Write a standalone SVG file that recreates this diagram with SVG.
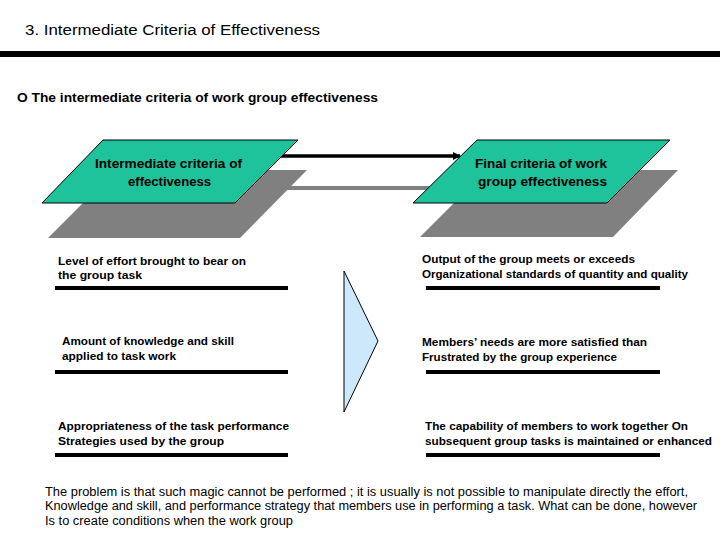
<svg xmlns="http://www.w3.org/2000/svg" width="720" height="540" viewBox="0 0 720 540">
<defs>
<style>
.title{font-family:"Liberation Sans",Arial,sans-serif;font-size:14px;fill:#000}
.b{font-family:"Liberation Sans",Arial,sans-serif;font-weight:bold;font-size:12px;fill:#000}
.bs{font-family:"Liberation Sans",Arial,sans-serif;font-weight:bold;font-size:11px;fill:#000}
.p{font-family:"Liberation Sans",Arial,sans-serif;font-size:12px;fill:#000}
.green{fill:#1EC39B;stroke:#000;stroke-width:1}
.shadow{fill:#808080}
.rule{fill:#000}
</style>
<marker id="ah" markerWidth="8" markerHeight="8" refX="7" refY="4" orient="auto" markerUnits="userSpaceOnUse">
<path d="M0,0 L8,4 L0,8 Z" fill="#000"/>
</marker>
</defs>
<rect width="720" height="540" fill="#fff"/>

<g id="title">
<text class="title" x="25" y="35" textLength="295" lengthAdjust="spacingAndGlyphs">3. Intermediate Criteria of Effectiveness</text>
<rect x="0" y="51" width="720" height="6" fill="#000"/>
</g>

<g id="subtitle">
<text class="b" x="17" y="102" textLength="361" lengthAdjust="spacingAndGlyphs">O The intermediate criteria of work group effectiveness</text>
</g>

<g id="shadows">
<polygon class="shadow" points="116,170 307,170 240,238 48,238"/>
<polygon class="shadow" points="487,170 678,170 613,237 420,237"/>
</g>

<g id="connectors">
<line x1="280" y1="156" x2="460" y2="156" stroke="#000" stroke-width="3.5" marker-end="url(#ah)"/>
<line x1="285" y1="188" x2="430" y2="188" stroke="#808080" stroke-width="4"/>
</g>

<g id="node-intermediate">
<polygon class="green" points="103,140 298,140 235,203 42,203"/>
<text class="b" x="168.5" y="168" text-anchor="middle" textLength="147" lengthAdjust="spacingAndGlyphs">Intermediate criteria of</text>
<text class="b" x="169.5" y="186" text-anchor="middle" textLength="83" lengthAdjust="spacingAndGlyphs">effectiveness</text>
</g>

<g id="node-final">
<polygon class="green" points="477,140 670,140 607,203 413,203"/>
<text class="b" x="541" y="168" text-anchor="middle" textLength="132" lengthAdjust="spacingAndGlyphs">Final criteria of work</text>
<text class="b" x="542.5" y="186" text-anchor="middle" textLength="129" lengthAdjust="spacingAndGlyphs">group effectiveness</text>
</g>

<g id="item-effort">
<text class="bs" x="58" y="265" textLength="188" lengthAdjust="spacingAndGlyphs">Level of effort brought to bear on</text>
<text class="bs" x="58" y="279" textLength="84" lengthAdjust="spacingAndGlyphs">the group task</text>
<rect class="rule" x="55" y="286" width="233" height="4"/>
</g>

<g id="item-knowledge">
<text class="bs" x="62" y="345" textLength="172" lengthAdjust="spacingAndGlyphs">Amount of knowledge and skill</text>
<text class="bs" x="62" y="360" textLength="114" lengthAdjust="spacingAndGlyphs">applied to task work</text>
<rect class="rule" x="55" y="370" width="233" height="4"/>
</g>

<g id="item-strategy">
<text class="bs" x="58" y="430" textLength="231" lengthAdjust="spacingAndGlyphs">Appropriateness of the task performance</text>
<text class="bs" x="58" y="445" textLength="166" lengthAdjust="spacingAndGlyphs">Strategies used by the group</text>
<rect class="rule" x="55" y="453" width="233" height="4"/>
</g>

<g id="triangle">
<polygon points="344,271 378,341 344,412" fill="#CCE8FA" stroke="#000" stroke-width="1"/>
</g>

<g id="item-output">
<text class="bs" x="422" y="263" textLength="213" lengthAdjust="spacingAndGlyphs">Output of the group meets or exceeds</text>
<text class="bs" x="422" y="278" textLength="266" lengthAdjust="spacingAndGlyphs">Organizational standards of quantity and quality</text>
<rect class="rule" x="426" y="286" width="234" height="4"/>
</g>

<g id="item-members">
<text class="bs" x="422" y="346" textLength="225" lengthAdjust="spacingAndGlyphs">Members’ needs are more satisfied than</text>
<text class="bs" x="422" y="361" textLength="195" lengthAdjust="spacingAndGlyphs">Frustrated by the group experience</text>
<rect class="rule" x="426" y="370" width="234" height="4"/>
</g>

<g id="item-capability">
<text class="bs" x="425" y="430" textLength="263" lengthAdjust="spacingAndGlyphs">The capability of members to work together On</text>
<text class="bs" x="425" y="445" textLength="287" lengthAdjust="spacingAndGlyphs">subsequent group tasks is maintained or enhanced</text>
<rect class="rule" x="426" y="453" width="234" height="4"/>
</g>

<g id="paragraph">
<text class="p" x="45" y="496" textLength="643" lengthAdjust="spacingAndGlyphs">The problem is that such magic cannot be performed ; it is usually is not possible to manipulate directly the effort,</text>
<text class="p" x="45" y="510" textLength="652" lengthAdjust="spacingAndGlyphs">Knowledge and skill, and performance strategy that members use in performing a task. What can be done, however</text>
<text class="p" x="45" y="525" textLength="248" lengthAdjust="spacingAndGlyphs">Is to create conditions when the work group</text>
</g>
</svg>
